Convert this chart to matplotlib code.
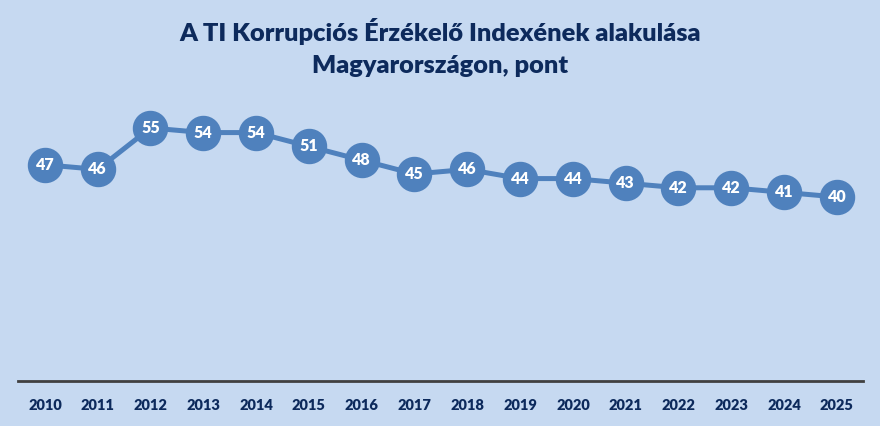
import matplotlib
matplotlib.use("Agg")
import matplotlib.pyplot as plt

years = ["2010", "2011", "2012", "2013", "2014", "2015", "2016", "2017",
         "2018", "2019", "2020", "2021", "2022", "2023", "2024", "2025"]
values = [47, 46, 55, 54, 54, 51, 48, 45, 46, 44, 44, 43, 42, 42, 41, 40]
title = "A TI Korrupciós Érzékelő Indexének alakulása\nMagyarországon, pont"

bg = "#C6D9F1"
blue = "#4F81BD"
navy = "#0D2A5C"

plt.rcParams['font.family'] = ['Lato', 'DejaVu Sans']

fig = plt.figure(figsize=(8.8, 4.26), dpi=100, facecolor=bg)
ax = fig.add_axes([0.021, 0.1056, 0.96, 0.648], facecolor=bg)

x = list(range(len(years)))
ax.plot(x, values, color=blue, lw=3.6, marker='o', markersize=24.5,
        markerfacecolor=blue, markeredgecolor=blue, zorder=3)
for xi, v in zip(x, values):
    ax.text(xi, v, str(v), ha='center', va='center', color='white',
            fontsize=11.5, fontweight='heavy', zorder=4)

ax.set_xlim(-0.5, len(years) - 0.5)
ax.set_ylim(0, 60)
ax.set_xticks(x)
ax.set_xticklabels(years, fontsize=10.5, fontweight='heavy', color=navy)
ax.tick_params(axis='x', length=0, pad=13)
ax.set_yticks([])
for s in ['top', 'right', 'left']:
    ax.spines[s].set_visible(False)
ax.spines['bottom'].set_color('#404040')
ax.spines['bottom'].set_linewidth(2)

fig.text(0.5, 0.888, title, ha='center', va='center', fontsize=18.3,
         fontweight='heavy', color=navy, linespacing=1.55)

fig.savefig("out.png", dpi=100, facecolor=bg)
